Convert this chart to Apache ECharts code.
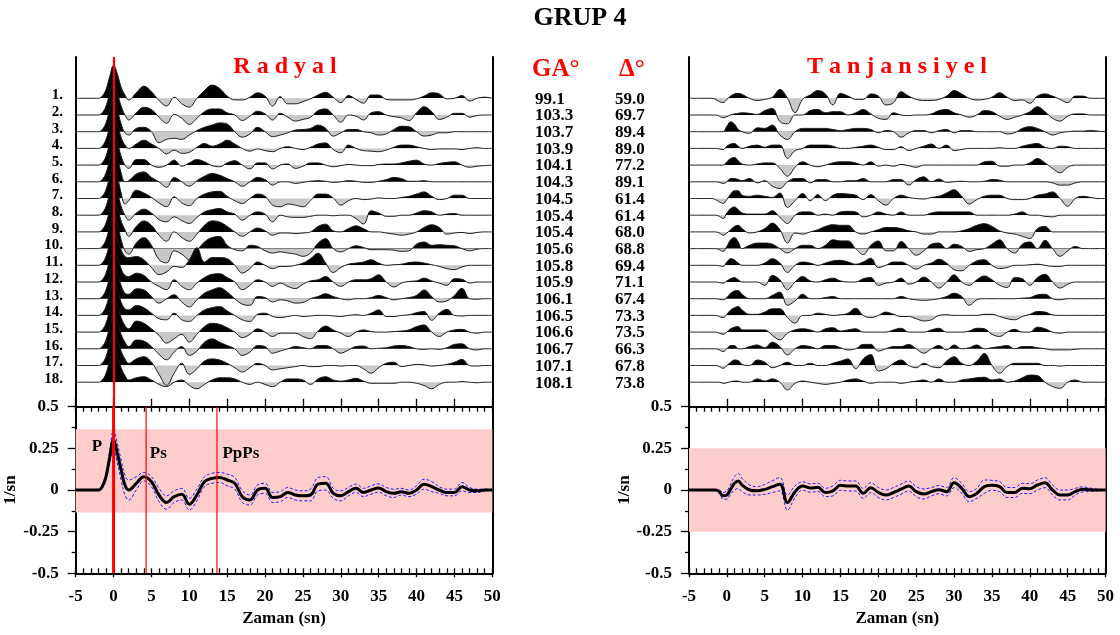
<!DOCTYPE html>
<html><head><meta charset="utf-8">
<script src="https://cdn.jsdelivr.net/npm/echarts@6/dist/echarts.min.js"></script>
<style>html,body{margin:0;padding:0;background:#fff}#c{width:1120px;height:635px}</style>
</head><body><div id="c"></div><script>
// ---------------- DATA ----------------
const T = [-5,-4,-3,-2,-1.5,-1,-0.5,0,0.5,1,1.5,2,3,4,5,6,7,8,9,10,11,12,13,14,15,16,17,18,19,20,21,22,23,24,25,26,27,28,29,30,31,32,33,34,35,36,37,38,39,40,41,42,43,44,45,46,47,48,49,50];

const R1 = [0,0,0,0,0.02,0.08,0.2,0.3,0.22,0.1,0.03,-0.015,
 0.05,0.11,0.06,-0.02,-0.07,0.01,-0.05,-0.08,0.0,0.07,
 0.12,0.09,0.02,-0.015,-0.015,0.01,0.05,0.02,-0.07,0.015,
 -0.05,-0.05,-0.03,-0.005,0.03,0.055,0.01,-0.04,0.025,-0.01,
 -0.045,0.03,0.03,-0.01,-0.015,-0.015,-0.015,-0.005,0.02,0.05,
 0.04,-0.005,0.0,0.025,-0.025,0.0,0.01,0];
const R2 = [0,0,0,0,0.02,0.08,0.2,0.3,0.2,0.08,0.0,-0.045,
 0.02,0.07,0.05,-0.02,-0.075,0.005,-0.03,-0.085,-0.03,0.03,
 0.055,0.055,0.02,0.0,-0.05,-0.01,0.035,0.01,-0.045,0.015,
 -0.02,-0.055,-0.04,-0.02,0.04,0.055,0.0,-0.065,0.0,-0.01,
 -0.045,0.02,0.03,0.0,-0.015,-0.025,-0.05,0.02,0.075,0.03,
 -0.04,-0.02,0.015,0.015,-0.02,-0.005,0.0,0];
const R3 = [0,0,0,0,0.02,0.08,0.2,0.29,0.2,0.07,-0.01,-0.03,
 0.03,0.04,0.0,-0.1,-0.07,-0.06,-0.07,-0.03,0.01,0.04,
 0.06,0.08,0.07,0.0,-0.05,-0.02,0.04,0.0,-0.045,-0.03,
 -0.01,0.015,0.02,0.03,0.06,0.03,-0.04,-0.01,0.02,0.02,
 0.0,-0.01,-0.03,-0.02,0.02,0.05,0.045,0.0,-0.04,-0.03,
 -0.01,-0.01,0.0,0.0,0.0,0.0,0,0];
const R4 = [0,0,0,0,0.02,0.08,0.2,0.3,0.22,0.1,0.03,0.0,
 0.04,0.075,0.04,0.0,-0.05,-0.015,-0.045,-0.035,0.01,0.045,
 0.02,0.04,0.075,0.04,0.0,-0.025,-0.005,-0.02,-0.03,0.0,
 0.015,0.0,-0.01,0.01,0.04,0.05,-0.01,-0.04,0.03,0.0,
 -0.02,-0.025,-0.03,-0.015,0.01,0.03,0.03,0.015,0.0,-0.01,
 -0.005,-0.005,-0.005,-0.01,0.0,0.005,0,0];
const R5 = [0,0,0,0,0.02,0.08,0.2,0.3,0.21,0.08,0.0,-0.03,
 0.05,0.05,0.0,-0.02,0.0,0.045,-0.01,0.02,0.05,0.03,
 -0.005,-0.015,0.02,0.04,0.0,-0.035,0.02,0.02,-0.035,0.0,
 0.01,-0.03,-0.01,0.02,0.02,0.0,-0.015,-0.005,0.005,0.0,
 -0.005,-0.005,0.005,0.01,0.01,0.02,0.035,0.045,0.01,0.0,
 0.015,0.025,0.03,0.0,-0.02,-0.01,-0.005,0];
const R6 = [0,0,0,0,0.02,0.08,0.2,0.3,0.22,0.08,0.0,0.01,
 0.07,0.09,0.04,0.0,-0.05,0.04,0.0,-0.04,0.01,0.05,
 0.075,0.06,0.03,0.0,-0.04,0.0,0.04,0.02,-0.03,0.0,
 0.0,-0.015,-0.005,0.005,0.01,0.005,-0.005,0.0,0.01,0.005,
 -0.005,-0.005,0.005,0.02,0.04,0.03,0.005,0.005,0.01,0.0,
 0,0,0,0,0,0,0,0];
const R7 = [0,0,0,0,0.02,0.08,0.2,0.3,0.2,0.05,-0.05,-0.02,
 0.075,0.05,0.01,-0.04,-0.075,0.015,-0.04,-0.065,0.0,0.04,
 0.06,0.065,0.02,-0.02,-0.045,0.0,0.04,0.02,-0.06,-0.075,
 -0.05,-0.06,-0.075,-0.02,0.04,0.04,0.005,-0.06,-0.02,0.0,
 -0.01,-0.005,0.005,0.0,0.0,0.01,0.02,0.04,0.06,0.02,
 -0.01,0.0,0.03,0.03,0.0,0.0,0,0];
const R8 = [0,0,0,0,0.02,0.08,0.2,0.3,0.21,0.08,0.0,-0.045,
 0.02,0.055,0.02,-0.04,-0.06,-0.015,-0.05,-0.075,-0.02,0.03,
 0.05,0.06,0.03,0.01,-0.045,0.0,0.03,0.01,-0.06,0.0,
 -0.015,-0.02,-0.02,-0.01,0.0,0.0,-0.005,0.0,0.0,-0.03,
 -0.08,0.04,0.02,-0.01,-0.01,0.0,0.0,0.02,0.04,0.03,
 0.0,0.01,0.015,0.0,0.0,0,0,0];
const R9 = [0,0,0,0,0.02,0.08,0.2,0.3,0.22,0.1,0.02,-0.04,
 0.05,0.1,0.06,-0.03,-0.085,0.0,-0.05,-0.085,-0.02,0.06,
 0.1,0.09,0.05,0.0,-0.04,0.0,0.035,0.01,-0.03,-0.01,
 -0.01,-0.015,-0.01,0.0,0.05,0.07,0.01,0.0,0.03,0.055,
 0.03,0.0,0.0,-0.01,-0.02,-0.03,-0.02,0.0,0.04,0.065,
 0.04,-0.02,-0.01,-0.005,-0.015,-0.005,0,0];
const R10 = [0,0,0,0,0.02,0.08,0.2,0.3,0.22,0.08,-0.02,-0.05,
 0.05,0.1,0.03,-0.1,-0.13,-0.02,-0.05,-0.1,-0.02,0.06,
 0.1,0.11,0.03,-0.01,-0.02,0.03,0.02,-0.02,-0.04,-0.03,
 -0.04,-0.05,-0.07,-0.04,0.05,0.09,0.0,-0.03,0.0,0.025,
 0.01,-0.01,-0.01,-0.01,-0.015,-0.025,-0.02,0.04,0.06,0.03,
 0.035,0.03,0.025,0.0,-0.02,-0.005,0.0,0];
const R11 = [0,0,0,0,0.02,0.08,0.2,0.3,0.24,0.14,0.08,0.07,
 0.08,0.05,-0.02,-0.085,-0.06,-0.01,-0.02,0.05,0.16,0.03,
 0.07,0.07,0.06,0.0,-0.07,-0.03,0.03,0.0,-0.03,-0.01,
 -0.01,0.0,0.02,0.06,0.11,0.02,-0.065,-0.02,0.01,0.02,
 0.03,0.05,0.02,0.0,0.005,0.01,0.025,0.03,0.02,0.005,
 -0.01,-0.03,-0.04,-0.015,0.0,0.0,0,0];
const R12 = [0,0,0,0,0.02,0.08,0.2,0.3,0.23,0.12,0.06,0.05,
 0.08,0.06,0.0,-0.04,-0.07,0.02,-0.04,-0.07,-0.01,0.04,
 0.07,0.075,0.04,0.0,-0.07,-0.03,0.02,0.0,-0.04,-0.01,
 -0.04,-0.06,-0.02,0.01,0.02,0.05,0.0,-0.04,0.0,0.02,
 0.02,0.03,0.065,0.0,-0.045,-0.01,0.005,0.01,0.035,0.01,
 -0.01,-0.03,0.03,0.025,-0.01,0.0,0,0];
const R13 = [0,0,0,0,0.02,0.08,0.2,0.3,0.23,0.12,0.05,0.04,
 0.09,0.08,0.02,-0.04,0.0,0.035,-0.03,-0.075,-0.01,0.05,
 0.08,0.1,0.06,0.0,-0.05,-0.06,0.02,0.01,-0.03,-0.01,
 -0.02,-0.04,-0.035,0.0,0.02,0.045,0.02,0.0,-0.01,0.0,
 0.0,0.01,0.03,0.01,-0.01,0.0,0.01,0.03,0.08,0.02,
 -0.03,-0.02,0.03,0.095,0.0,-0.005,0,0];
const R14 = [0,0,0,0,0.02,0.08,0.2,0.3,0.23,0.12,0.06,0.05,
 0.09,0.07,0.02,-0.03,-0.04,0.02,-0.04,-0.055,0.0,0.05,
 0.07,0.08,0.04,0.0,-0.04,-0.055,0.01,0.02,-0.01,-0.02,
 -0.01,0.0,-0.01,-0.005,0.0,0.0,-0.005,-0.01,0.0,0.005,
 0.0,0.02,0.05,-0.01,-0.01,0.0,0.005,0.025,0.035,-0.045,
 0.02,0.055,0.0,-0.005,0.0,0.0,0,0];
const R15 = [0,0,0,0,0.02,0.08,0.2,0.3,0.24,0.13,0.06,0.03,
 0.1,0.08,0.03,-0.03,-0.1,-0.06,-0.02,-0.09,-0.02,0.05,
 0.08,0.07,0.04,0.0,-0.05,-0.02,0.03,0.0,-0.04,-0.01,
 -0.01,-0.01,-0.04,-0.06,0.01,0.055,0.02,-0.01,-0.04,0.0,
 0.02,0.005,0.0,0.0,0.005,0.01,0.02,0.05,0.065,0.0,
 -0.04,0.0,0.02,0.025,0.0,-0.01,0,0];
const R16 = [0,0,0,0,0.02,0.08,0.2,0.3,0.24,0.13,0.06,0.02,
 0.08,0.07,0.02,-0.05,-0.1,-0.03,0.02,-0.06,-0.02,0.06,
 0.09,0.06,0.03,0.0,-0.06,-0.03,0.03,0.02,-0.04,-0.02,
 0.0,0.02,0.01,0.0,0.03,0.03,0.0,-0.04,-0.01,0.02,
 0.025,0.0,0.005,0.01,0.025,0.03,0.02,0.0,-0.005,0.0,
 -0.005,0.01,0.04,0.045,0.0,-0.01,0,0];
const R17 = [0,0,0,0,0.02,0.08,0.2,0.3,0.24,0.13,0.06,0.02,
 0.06,0.08,0.03,-0.08,-0.18,-0.07,0.02,-0.08,-0.03,0.04,
 0.06,0.05,0.02,-0.02,-0.06,-0.02,0.02,0.0,-0.04,-0.03,
 -0.02,-0.01,0.0,-0.01,-0.01,0.0,0.0,-0.005,0.0,0.0,
 -0.03,-0.07,-0.02,0.02,0.03,-0.01,0.0,0.01,0.005,-0.005,
 0.0,0.01,0.03,0.055,0.0,-0.005,0,0];
const R18 = [0,0,0,0,0.02,0.08,0.2,0.3,0.24,0.13,0.06,0.02,
 0.04,0.05,0.02,-0.02,-0.04,0.0,0.02,-0.03,-0.06,-0.02,
 0.02,0.04,0.04,0.03,0.0,-0.02,0.0,-0.02,-0.04,0.0,
 0.03,0.03,0.02,-0.02,0.03,0.05,0.02,0.01,0.02,0.035,
 0.01,-0.01,-0.01,-0.01,-0.01,0.0,0.0,-0.01,-0.03,-0.06,
 -0.02,0.0,0.0,0.005,0.0,-0.005,0,0];

const T1 = [0,0,0,0,-0.01,-0.03,-0.04,-0.01,0.02,0.04,0.045,0.035,
 0.0,-0.02,-0.01,0.01,0.08,0.0,-0.13,-0.01,0.03,0.07,
 0.04,-0.06,0.045,0.02,-0.01,-0.01,0.04,0.02,-0.06,-0.04,
 0.06,0.02,-0.01,-0.02,-0.02,-0.01,0.02,0.07,0.04,0.0,
 -0.015,-0.01,0.01,0.05,0.01,-0.02,-0.015,-0.045,0.02,0.04,
 0.02,-0.01,-0.04,0.02,0.02,0.0,0.0,0];
const T2 = [0,0,0,0,0.0,-0.01,-0.025,-0.015,0.0,0.01,0.015,0.02,
 0.015,0.005,0.04,0.06,-0.06,-0.08,0.0,0.0,0.04,0.05,
 0.02,0.03,0.03,0.0,0.02,0.05,0.01,-0.03,-0.04,0.02,
 0.0,-0.005,0.0,0.0,0.01,0.04,0.05,0.02,0.0,-0.02,
 0.0,0.04,0.03,-0.01,-0.04,-0.02,0.0,0.03,0.075,0.03,
 -0.03,-0.055,-0.01,0.01,0.01,0.0,0,0];
const T3 = [0,0,0,0,0,0.0,0.0,0.05,0.09,0.07,0.02,0.0,
 -0.015,0.035,0.03,0.06,-0.03,-0.07,0.0,0.03,0.03,0.03,
 0.03,0.02,0.01,0.02,0.03,0.03,0.02,-0.01,0.01,0.0,
 -0.05,-0.01,0.01,0.01,-0.01,0.01,0.02,-0.01,0.01,0.01,
 0.0,0.0,0.0,0.0,-0.02,-0.01,0.03,0.045,0.03,0.0,
 -0.03,-0.01,0.0,0.005,0.005,0.01,0.005,0];
const T4 = [0,0,0,0,0,-0.005,-0.01,0.02,0.04,0.045,0.02,0.0,
 0.02,0.03,0.01,0.03,0.03,-0.09,-0.02,0.0,0.03,0.03,
 0.03,0.02,0.0,0.0,0.01,0.02,0.03,0.01,-0.01,-0.01,
 0.015,-0.02,0.0,0.02,0.04,0.0,0.03,-0.02,-0.01,0.0,
 0.0,0.0,0.0,0.005,0.0,0.0,0.02,0.035,0.045,0.01,
 0.0,0.02,0.015,0.0,0.0,0.0,0,0];
const T5 = [0,0,0,0,0,0.0,0.0,0.03,0.06,0.07,0.04,0.01,
 0.0,0.01,0.02,0.02,-0.03,-0.1,-0.02,0.03,0.0,-0.015,
 0.0,0.02,0.03,0.03,0.02,0.0,0.03,-0.01,0.0,-0.01,
 0.005,-0.005,-0.02,0.0,0.0,0.0,0.0,0.0,0.0,0.0,
 0.0,0.03,0.035,-0.01,-0.01,0.0,0.0,0.02,0.06,0.02,
 -0.03,-0.07,-0.02,0.0,0.0,0,0,0];
const T6 = [0,0,0,0,0,-0.005,-0.015,0.0,0.03,0.03,0.02,0.01,
 0.03,-0.01,0.01,-0.04,-0.06,0.0,0.03,0.03,-0.01,0.02,
 0.02,0.0,0.0,0.01,0.01,0.03,0.0,0.0,0.0,0.02,
 0.02,-0.03,0.02,0.045,0.0,0.025,-0.005,0.0,0.005,0.0,
 0.0,0.005,0.02,0.015,0.0,0.0,0.0,0.0,0.0,0.0,
 -0.01,-0.03,-0.03,-0.01,0.0,0.0,0,0];
const T7 = [0,0,0,0,-0.01,-0.03,-0.045,-0.01,0.04,0.07,0.07,0.03,
 0.02,0.03,0.02,0.01,0.05,-0.08,-0.02,0.045,-0.02,0.035,
 -0.02,0.03,0.045,0.04,0.03,-0.01,0.035,-0.02,-0.06,0.0,
 0.03,0.01,0.0,-0.005,0.01,0.02,0.05,0.08,0.02,-0.05,
 -0.01,0.02,0.03,0.03,0.0,-0.01,-0.01,0.0,0.03,0.04,
 0.06,0.0,-0.07,0.0,0.02,0.01,0,0];
const T8 = [0,0,0,0,0,-0.01,-0.03,0.02,0.06,0.075,0.05,0.02,
 0.01,0.01,0.01,0.04,-0.02,-0.075,0.0,0.03,0.03,0.0,
 0.01,0.0,0.03,0.035,0.03,-0.015,0.0,0.03,0.01,0.0,
 0.03,0.0,0.0,0.0,0.02,0.03,0.03,0.03,0.03,0.03,
 0.0,0.0,0.0,0.0,0.0,0.01,0.03,0.0,0.0,-0.01,
 -0.015,0.0,0.0,0.0,0.0,0,0,0];
const T9 = [0,0,0,0,0,-0.01,-0.03,-0.01,0.02,0.05,0.06,0.03,
 -0.01,0.0,0.03,0.08,0.02,-0.1,-0.01,-0.02,0.0,0.02,
 0.05,0.065,0.06,0.06,0.0,-0.02,0.0,0.02,0.04,0.04,
 0.03,0.01,0.0,-0.02,-0.02,0.0,0.0,0.0,0.01,0.03,
 0.06,0.075,0.05,0.01,-0.01,-0.02,-0.04,-0.06,0.03,0.05,
 0.0,0.0,0.0,0.0,0.0,0.0,0,0];
const T10 = [0,0,0,0,0,-0.01,-0.025,0.02,0.08,0.1,0.06,0.0,
 0.03,0.05,0.05,0.04,0.0,-0.04,0.0,0.03,0.03,0.0,
 0.03,0.08,0.07,0.07,0.0,-0.055,0.03,0.07,-0.02,-0.02,
 0.065,0.0,-0.06,-0.02,0.04,0.05,0.0,0.04,0.02,-0.025,
 -0.01,0.0,0.04,0.08,0.0,-0.04,0.04,0.06,0.0,0.075,
 0.0,-0.07,-0.02,0.02,0.0,0.0,0,0];
const T11 = [0,0,0,0,0,-0.005,-0.01,0.03,0.06,0.05,0.02,0.0,
 0.0,0.0,0.02,0.06,0.02,-0.065,0.0,0.03,0.02,0.0,
 0.02,0.04,0.045,0.03,0.01,0.03,0.065,-0.02,0.0,0.03,
 0.03,0.0,-0.035,0.0,0.02,0.055,0.02,-0.04,-0.05,0.0,
 0.04,0.05,0.0,-0.03,-0.02,0.0,0.0,0.005,0.01,0.0,
 -0.01,-0.01,0.0,0.0,0,0,0,0];
const T12 = [0,0,0,0,0,-0.005,-0.01,0.01,0.03,0.04,0.02,0.0,
 0.0,0.0,-0.03,0.06,0.02,-0.07,0.0,0.05,0.01,0.0,
 0.02,0.035,0.01,0.0,0.0,0.03,0.04,-0.03,-0.01,0.0,
 0.035,-0.02,0.0,0.045,0.0,-0.055,0.0,0.065,0.0,-0.03,
 0.02,0.055,0.02,-0.03,-0.05,0.04,0.03,-0.03,0.04,0.07,
 0.0,-0.055,-0.02,0.0,0.0,0.0,0,0];
const T13 = [0,0,0,0,0,-0.005,-0.01,0.01,0.05,0.07,0.075,0.04,
 0.0,0.0,0.0,0.03,0.06,-0.06,-0.02,0.04,0.0,0.0,
 0.01,0.02,0.0,0.0,0.0,0.0,0.0,0.0,0.0,0.0,
 0.02,0.0,-0.01,-0.015,-0.01,0.0,0.02,0.05,0.02,-0.06,
 -0.01,0.0,0.0,0.0,0.0,0.0,0.005,0.01,0.035,0.04,
 0.0,-0.01,0.0,0.0,0,0,0,0];
const T14 = [0,0,0,0,0,-0.01,-0.02,0.01,0.05,0.07,0.08,0.05,
 0.01,0.01,0.03,0.06,0.06,-0.02,-0.07,0.0,0.0,0.02,
 0.01,0.0,0.005,0.02,0.065,0.0,-0.02,0.0,0.03,0.01,
 -0.01,-0.01,-0.03,-0.05,-0.04,0.0,0.005,0.0,0.0,0.0,
 0.0,0.01,0.01,-0.01,-0.03,-0.04,-0.01,0.01,0.035,0.03,
 0.005,0.0,0.0,0.0,0,0,0,0];
const T15 = [0,0,0,0,0,-0.01,-0.02,0.0,0.03,0.045,0.05,0.02,
 0.02,0.02,0.02,-0.03,-0.07,-0.01,0.02,0.03,0.02,0.0,
 0.03,0.04,0.01,0.02,0.03,0.0,0.0,0.0,0.0,0.02,
 0.035,0.0,0.0,0.0,0.02,0.035,0.0,0.0,0.0,0.01,
 0.035,0.03,-0.02,-0.04,0.0,0.025,0.0,0.0,0.045,0.03,
 0.0,-0.01,0.0,0.0,0,0,0,0];
const T16 = [0,0,0,0,0,-0.01,-0.025,0.0,0.03,0.03,0.0,0.0,
 0.02,0.035,0.01,0.06,0.02,-0.055,0.0,0.03,0.02,0.0,
 0.03,0.03,0.01,-0.01,0.0,0.04,0.04,-0.02,0.0,0.02,
 0.02,0.04,0.0,-0.04,0.0,0.03,-0.01,0.035,0.0,0.01,
 0.035,0.0,0.01,0.02,0.03,0.0,0.02,0.02,0.01,0.0,
 -0.01,-0.01,-0.01,-0.005,0,0,0,0];
const T17 = [0,0,0,0,0,-0.01,-0.025,0.0,0.03,0.05,0.045,0.01,
 0.0,0.05,0.03,-0.02,0.0,0.03,0.0,0.0,0.02,0.0,
 0.0,0.02,0.04,0.06,-0.03,0.06,0.1,-0.05,-0.03,0.02,
 0.05,0.0,-0.02,0.02,-0.01,-0.02,0.04,0.08,0.02,0.0,
 0.04,0.11,0.0,-0.07,-0.01,0.02,0.02,0.02,0.02,0.0,
 0.0,-0.005,0.0,0.0,0,0,0,0];
const T18 = [0,0,0,0,0,0.0,-0.01,-0.005,0.005,0.01,0.01,0.0,
 0.0,0.03,0.01,0.03,0.0,-0.07,-0.01,0.01,0.0,-0.01,
 -0.02,-0.01,0.0,0.02,0.03,0.01,-0.01,0.0,0.0,0.0,
 -0.01,0.0,0.01,0.02,0.0,0.03,0.0,0.0,0.02,0.03,
 0.04,0.045,0.02,0.03,0.0,0.01,0.04,0.065,0.06,0.0,
 -0.04,-0.055,0.0,0.02,0.0,0.0,0,0];

const stackR = [0,0,0,0,0.02,0.08,0.2,0.3,0.22,0.12,0.03,0.0,
 0.04,0.08,0.05,-0.03,-0.075,-0.04,-0.025,-0.085,-0.03,0.05,
 0.07,0.075,0.06,0.04,-0.04,-0.06,0.0,0.01,-0.045,-0.04,
 -0.015,-0.03,-0.035,-0.03,0.035,0.04,-0.02,-0.035,-0.01,0.01,
 -0.015,0.0,0.012,-0.01,-0.02,-0.01,-0.02,0.0,0.035,0.02,
 0.0,-0.015,-0.015,0.02,0.0,-0.005,0.0,0];
const sdR = [0,0,0,0,0.005,0.02,0.04,0.06,0.06,0.06,0.06,0.06,
 0.04,0.025,0.03,0.04,0.04,0.035,0.035,0.035,0.035,0.03,
 0.03,0.03,0.035,0.035,0.035,0.03,0.03,0.03,0.03,0.03,
 0.03,0.03,0.03,0.035,0.04,0.04,0.03,0.03,0.025,0.025,
 0.025,0.025,0.025,0.025,0.025,0.02,0.02,0.025,0.03,0.03,
 0.02,0.02,0.02,0.025,0.015,0.01,0.005,0.002];
const stackT = [0,0,0,0,0.0,-0.01,-0.035,-0.03,0.005,0.04,0.054,0.03,
 0.0,-0.005,0.004,0.02,0.035,-0.075,-0.01,0.024,0.012,0.016,
 -0.015,-0.005,0.028,0.024,0.024,-0.02,0.014,-0.015,-0.03,-0.015,
 0.005,0.024,-0.01,-0.024,-0.01,0.002,-0.01,0.044,0.01,-0.04,
 -0.02,0.02,0.028,0.02,-0.015,-0.015,0.01,0.008,0.03,0.044,
 0.0,-0.03,-0.03,-0.01,0.004,0.001,0.0,0];
const sdT = [0,0,0,0,0.002,0.01,0.02,0.025,0.03,0.04,0.045,0.04,
 0.03,0.025,0.03,0.035,0.04,0.045,0.035,0.025,0.025,0.025,
 0.025,0.03,0.03,0.03,0.03,0.03,0.03,0.03,0.03,0.03,
 0.03,0.03,0.03,0.03,0.025,0.025,0.025,0.03,0.03,0.03,
 0.03,0.04,0.03,0.03,0.03,0.03,0.03,0.03,0.03,0.03,
 0.03,0.03,0.03,0.02,0.015,0.01,0.005,0.002];

const bandR = [-0.135, 0.365];
const bandT = [-0.25, 0.25];
const phaseTimes = [0, 4.3, 13.65];
const phaseWidths = [3, 1.2, 1.2];
const phaseLabels = ['P', 'Ps', 'PpPs'];
const phaseLabelAt = [[-2.2, 0.262], [5.9, 0.22], [16.8, 0.22]];

const GA = ['99.1','103.3','103.7','103.9','104.1','104.3','104.5','105.4','105.4','105.6','105.8','105.9','106.1','106.5','106.6','106.7','107.1','108.1'];
const DELTA = ['59.0','69.7','89.4','89.0','77.2','89.1','61.4','61.4','68.0','68.8','69.4','71.1','67.4','73.3','73.5','66.3','67.8','73.8'];

const radial = [R1,R2,R3,R4,R5,R6,R7,R8,R9,R10,R11,R12,R13,R14,R15,R16,R17,R18];
const tangential = [T1,T2,T3,T4,T5,T6,T7,T8,T9,T10,T11,T12,T13,T14,T15,T16,T17,T18];

// ---------------- LAYOUT ----------------
const LAY = { L:[75.7, 689], W:416.6, base0:98.3, step:16.7, gain:110,
  frameTop:57, botTop:406.7, botH:166.6 };
const FONT = 'Liberation Serif';
const BOLD = s => 'bold ' + s + 'px "Liberation Serif"';
const RED = '#ff0000';

const chart = echarts.init(document.getElementById('c'));
const grid=[], xAxis=[], yAxis=[], series=[], graphic=[];
const pair = arr => T.map((t,i)=>[t, arr[i]]);
function addGrid(g){ grid.push(g); return grid.length-1; }

// stacked traces
[radial, tangential].forEach((traces, p) => {
  traces.forEach((tr, k) => {
    const base = LAY.base0 + k*LAY.step;
    const gi = addGrid({left: LAY.L[p], width: LAY.W, top: base - LAY.gain/2, height: LAY.gain});
    xAxis.push({gridIndex: gi, type:'value', min:-5, max:50, show:false});
    yAxis.push({gridIndex: gi, type:'value', min:-0.5, max:0.5, show:false});
    series.push({type:'line', xAxisIndex: xAxis.length-1, yAxisIndex: yAxis.length-1,
      data: pair(tr), smooth: 0.4, symbol:'none', silent:true,
      lineStyle:{color:'#1a1a1a', width:1},
      areaStyle:{opacity:1, color:{type:'linear', global:true, x:0, y:base-0.5, x2:0, y2:base+0.5,
        colorStops:[{offset:0,color:'#000'},{offset:0.5,color:'#000'},{offset:0.5,color:'#c8c8c8'},{offset:1,color:'#c8c8c8'}]}}
    });
  });
});

// top frames (left/right border lines, red zero line)
[0,1].forEach(p => {
  const gi = addGrid({left: LAY.L[p], width: LAY.W, top: LAY.frameTop, height: LAY.botTop - LAY.frameTop});
  xAxis.push({gridIndex:gi, type:'value', min:-5, max:50, show:false});
  const frameY = pos => ({gridIndex:gi, type:'value', min:0, max:1, position:pos,
    axisLine:{show:true, onZero:false, lineStyle:{color:'#000', width:2}}, axisTick:{show:false},
    axisLabel:{show:false}, splitLine:{show:false}});
  yAxis.push(frameY('left')); const yl = yAxis.length-1;
  yAxis.push(frameY('right'));
  const s = {type:'line', color: RED, xAxisIndex: xAxis.length-1, yAxisIndex: yl, data:[[0,-1]], symbol:'none', silent:true,
    lineStyle:{opacity:0}, z:10};
  if (p === 0) s.markLine = {silent:true, symbol:['none','none'], label:{show:false},
    lineStyle:{color:RED, width:2.2, type:'solid'}, data:[{xAxis: phaseTimes[0]}]};
  series.push(s);
});

// bottom stacks
const tickStyle = {color:'#000', width:1.3};
const axisText = {color:'#000', fontFamily:FONT, fontWeight:'bold', fontSize:17};
[{m:stackR, sd:sdR, band:bandR, marks:phaseTimes}, {m:stackT, sd:sdT, band:bandT, marks:[]}].forEach((b, p) => {
  const gi = addGrid({left: LAY.L[p], width: LAY.W, top: LAY.botTop, height: LAY.botH});
  const xa = (pos, lab) => ({gridIndex:gi, type:'value', min:-5, max:50, interval:5, position:pos,
    axisLine:{show:true, onZero:false, lineStyle:{color:'#000', width:2}},
    axisTick:{show:true, inside:true, length:5, lineStyle:tickStyle},
    minorTick:{show:true, splitNumber:5, length:5, lineStyle:tickStyle},
    axisLabel: lab ? Object.assign({margin:15}, axisText) : {show:false},
    splitLine:{show:false}, minorSplitLine:{show:false},
    name: lab ? 'Zaman (sn)' : '', nameLocation:'middle', nameGap:37, nameTextStyle: axisText});
  const xo = (pos, len) => ({gridIndex:gi, type:'value', min:-5, max:50, interval:5, position:pos,
    axisLine:{show:false, onZero:false}, axisTick:{show:true, inside:false, length:len, lineStyle:tickStyle},
    axisLabel:{show:false}, splitLine:{show:false}});
  xAxis.push(xa('bottom', true)); const xb = xAxis.length-1;
  xAxis.push(xa('top', false));
  xAxis.push(xo('top', 8));
  xAxis.push(xo('bottom', 4));
  yAxis.push({gridIndex:gi, type:'value', min:-0.5, max:0.5, interval:0.25, position:'left',
    axisLine:{show:true, onZero:false, lineStyle:{color:'#000', width:2}},
    axisTick:{show:true, inside:false, length:8, lineStyle:tickStyle},
    minorTick:{show:true, splitNumber:2, length:4, lineStyle:tickStyle},
    axisLabel: Object.assign({margin:17}, axisText),
    splitLine:{show:false}, minorSplitLine:{show:false},
    name:'1/sn', nameLocation:'middle', nameGap:46, nameRotate:90, nameTextStyle: axisText});
  const yb = yAxis.length-1;
  yAxis.push({gridIndex:gi, type:'value', min:-0.5, max:0.5, position:'right',
    axisLine:{show:true, onZero:false, lineStyle:{color:'#000', width:2}}, axisTick:{show:false},
    axisLabel:{show:false}, splitLine:{show:false}});
  const up = T.map((t,i)=>[t, b.m[i] + b.sd[i]]);
  const lo = T.map((t,i)=>[t, b.m[i] - b.sd[i]]);
  const dashed = {color:'#1a1aff', width:1, type:[3,2]};
  series.push({type:'line', xAxisIndex:xb, yAxisIndex:yb, data:up, smooth:0.4, symbol:'none', silent:true, lineStyle:dashed, z:3});
  series.push({type:'line', xAxisIndex:xb, yAxisIndex:yb, data:lo, smooth:0.4, symbol:'none', silent:true, lineStyle:dashed, z:3});
  series.push({type:'line', xAxisIndex:xb, yAxisIndex:yb, data:pair(b.m), smooth:0.4, symbol:'none', silent:true,
    lineStyle:{color:'#000', width:3}, z:4,
    markArea:{silent:true, itemStyle:{color:'#ffcccc'}, data:[[{yAxis:b.band[0]},{yAxis:b.band[1]}]]}});
  // red phase lines drawn as vertical two-point line series
  b.marks.forEach((t, i) => {
    series.push({type:'line', xAxisIndex:xb, yAxisIndex:yb, data:[[t, -0.5], [t, 0.5]], symbol:'none', silent:true,
      lineStyle:{color:RED, width:phaseWidths[i], type:'solid'}, z:6});
  });
  if (b.marks.length) {
    series.push({type:'line', xAxisIndex:xb, yAxisIndex:yb, data:[], symbol:'none', silent:true, z:7,
      markPoint:{silent:true, symbol:'rect', symbolSize:1, itemStyle:{color:'rgba(0,0,0,0)'},
        label:{show:true, position:'inside', formatter:'{b}', color:'#000', fontFamily:FONT, fontWeight:'bold', fontSize:17},
        data: phaseLabels.map((n,i)=>({name:n, coord: phaseLabelAt[i]}))}});
  }
});

// texts
const txt = (text, x, y, font, fill, align) => ({type:'text', x, y, silent:true, z:20,
  style:{text, font, fill: fill||'#000', textAlign: align||'left', textVerticalAlign:'middle'}});
graphic.push(txt('GRUP 4', 580, 18, BOLD(26), '#000', 'center'));
graphic.push(txt('R a d y a l', 285, 67, BOLD(24), RED, 'center'));
graphic.push(txt('T a n j a n s i y e l', 897, 67, BOLD(24), RED, 'center'));
graphic.push(txt('GA°', 532, 70, BOLD(25), RED, 'left'));
graphic.push(txt('Δ°', 619, 70, BOLD(25), RED, 'left'));
for (let k = 0; k < 18; k++) {
  const base = LAY.base0 + k*LAY.step;
  graphic.push(txt(GA[k], 535, base + 1, BOLD(17), '#000', 'left'));
  graphic.push(txt(DELTA[k], 615, base + 1, BOLD(17), '#000', 'left'));
  graphic.push(txt((k+1) + '.', 63, base - 3, BOLD(15), '#000', 'right'));
}

chart.setOption({animation:false, backgroundColor:'#fff', grid, xAxis, yAxis, series, graphic});
</script></body></html>
